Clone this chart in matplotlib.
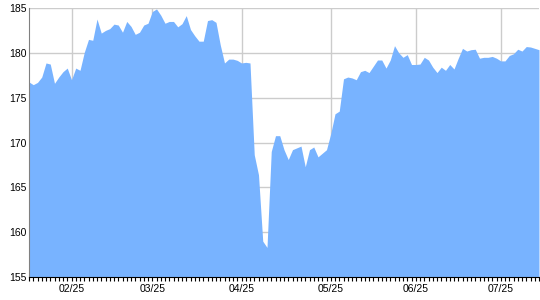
import numpy as np
import matplotlib
matplotlib.use("Agg")
import matplotlib.pyplot as plt
from matplotlib.ticker import MultipleLocator

# closing prices, one per trading day (mid Jan .. Jul 2025)
prices = [
    176.75, 176.45, 176.7, 177.3, 178.87, 178.75, 176.6, 177.3, 177.9, 178.3,
    177.0, 178.3, 178.05, 180.05, 181.5, 181.4, 183.77, 182.2, 182.5, 182.7,
    183.2, 183.1, 182.3, 183.5, 182.95, 182.06, 182.3, 183.1, 183.3, 184.6,
    184.9, 184.2, 183.3, 183.5, 183.5, 182.9, 183.25, 184.15, 182.6, 181.9,
    181.3, 181.3, 183.6, 183.7, 183.4, 180.9, 178.87, 179.3, 179.3, 179.16,
    178.87, 178.94, 178.87, 168.64, 166.4, 159.0, 158.3, 169.0, 170.76, 170.76,
    169.2, 168.1, 169.2, 169.4, 169.6, 167.3, 169.2, 169.5, 168.4, 168.8,
    169.2, 171.0, 173.2, 173.5, 177.1, 177.3, 177.2, 177.0, 177.9, 178.05,
    177.8, 178.5, 179.2, 179.2, 178.3, 179.2, 180.8, 180.0, 179.5, 179.8,
    178.7, 178.7, 178.75, 179.5, 179.2, 178.4, 177.8, 178.4, 178.05, 178.7,
    178.2, 179.4, 180.5, 180.2, 180.35, 180.4, 179.4, 179.5, 179.5, 179.6,
    179.4, 179.1, 179.1, 179.7, 179.9, 180.4, 180.2, 180.7, 180.65, 180.5,
    180.35,
]
# index of the first trading day of each month shown on the axis
month_starts = [10, 29, 50, 71, 91, 111]
month_labels = ["02/25", "03/25", "04/25", "05/25", "06/25", "07/25"]
y_ticks = [155, 160, 165, 170, 175, 180, 185]

x = np.arange(len(prices))

fig = plt.figure(figsize=(5.4, 3.0), dpi=100)
ax = fig.add_axes([29 / 540, 23 / 300, 510 / 540, 269 / 300])

ax.fill_between(x, 155, prices, color="#78b3ff", linewidth=0, zorder=2)

ax.set_xlim(0, len(prices) - 1)
ax.set_ylim(155, 185)
ax.set_yticks(y_ticks)
ax.set_xticks(month_starts)
ax.set_xticklabels(month_labels)
ax.xaxis.set_minor_locator(MultipleLocator(1))

ax.grid(True, color="#cccccc", linewidth=1, zorder=0)
ax.set_axisbelow(True)

for s in ["top", "right"]:
    ax.spines[s].set_visible(False)
ax.spines["left"].set_color("#808080")
ax.spines["bottom"].set_color("black")

ax.tick_params(axis="y", length=0, pad=2, labelsize=7.5)
ax.tick_params(axis="x", which="both", length=3, width=0.8, direction="out",
               pad=2, labelsize=7.5)
for lbl in ax.get_xticklabels() + ax.get_yticklabels():
    lbl.set_family(["Liberation Sans", "DejaVu Sans"])

fig.savefig("out.png", dpi=100)
